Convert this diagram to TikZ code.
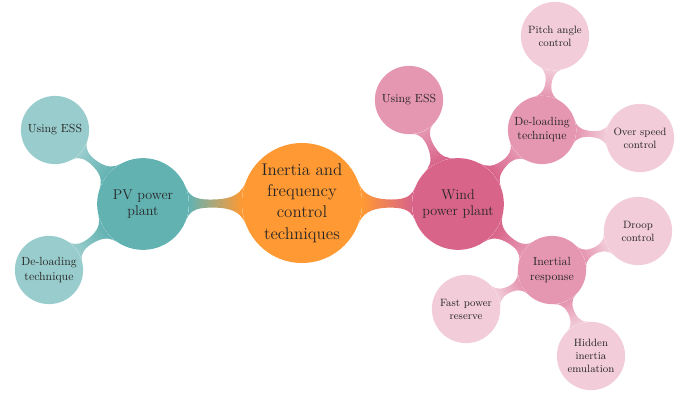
\documentclass[tikz,border=0pt]{standalone}
\usepackage{tikz}
\usetikzlibrary{mindmap}
\definecolor{rootc}{RGB}{255,153,51}
\definecolor{pvc}{RGB}{99,178,178}
\definecolor{pvtwo}{RGB}{153,204,204}
\definecolor{windc}{RGB}{216,100,138}
\definecolor{windtwo}{RGB}{229,150,176}
\definecolor{windthree}{RGB}{242,204,216}

\begin{document}
\begin{tikzpicture}[x=0.85pt, y=-0.85pt,
  bubble/.style={circle, inner sep=1pt, align=center, text=black!85},
  rootbubble/.style={bubble, fill=rootc, minimum size=102pt, font=\Large},
  onebubble/.style={bubble, minimum size=78pt, font=\large},
  twobubble/.style={bubble, minimum size=58pt, font=\normalsize},
  threebubble/.style={bubble, fill=windthree, minimum size=58pt, font=\small}
]
\useasboundingbox (0,0) rectangle (686,394);

\node[rootbubble] (root) at (302,203) {Inertia and\\frequency\\control\\techniques};

% PV side
\node[onebubble, fill=pvc] (pv) at (143,204) {PV power\\plant};
\node[twobubble, fill=pvtwo] (pvess) at (55,130) {Using ESS};
\node[twobubble, fill=pvtwo] (pvdel) at (49,270) {De-loading\\technique};

% wind side
\node[onebubble, fill=windc] (wind) at (458,204) {Wind\\power plant};
\node[twobubble, fill=windtwo] (windess) at (409,100) {Using ESS};
\node[twobubble, fill=windtwo] (winddel) at (542,130) {De-loading\\technique};
\node[twobubble, fill=windtwo] (inertial) at (552,270) {Inertial\\response};
\node[threebubble] (pitch) at (555,36) {Pitch angle\\control};
\node[threebubble] (overspeed) at (640,138) {Over speed\\control};
\node[threebubble] (droop) at (638,231) {Droop\\control};
\node[threebubble] (fastres) at (466,309) {Fast power\\reserve};
\node[threebubble] (hidden) at (591,356) {Hidden\\inertia\\emulation};

\path (root) to[circle connection bar switch color=from (rootc) to (pvc)] (pv);
\path (root) to[circle connection bar switch color=from (rootc) to (windc)] (wind);
\path (pv) to[circle connection bar switch color=from (pvc) to (pvtwo)] (pvess);
\path (pv) to[circle connection bar switch color=from (pvc) to (pvtwo)] (pvdel);
\path (wind) to[circle connection bar switch color=from (windc) to (windtwo)] (windess);
\path (wind) to[circle connection bar switch color=from (windc) to (windtwo)] (winddel);
\path (wind) to[circle connection bar switch color=from (windc) to (windtwo)] (inertial);
\path (winddel) to[circle connection bar switch color=from (windtwo) to (windthree)] (pitch);
\path (winddel) to[circle connection bar switch color=from (windtwo) to (windthree)] (overspeed);
\path (inertial) to[circle connection bar switch color=from (windtwo) to (windthree)] (droop);
\path (inertial) to[circle connection bar switch color=from (windtwo) to (windthree)] (fastres);
\path (inertial) to[circle connection bar switch color=from (windtwo) to (windthree)] (hidden);
\end{tikzpicture}
\end{document}
